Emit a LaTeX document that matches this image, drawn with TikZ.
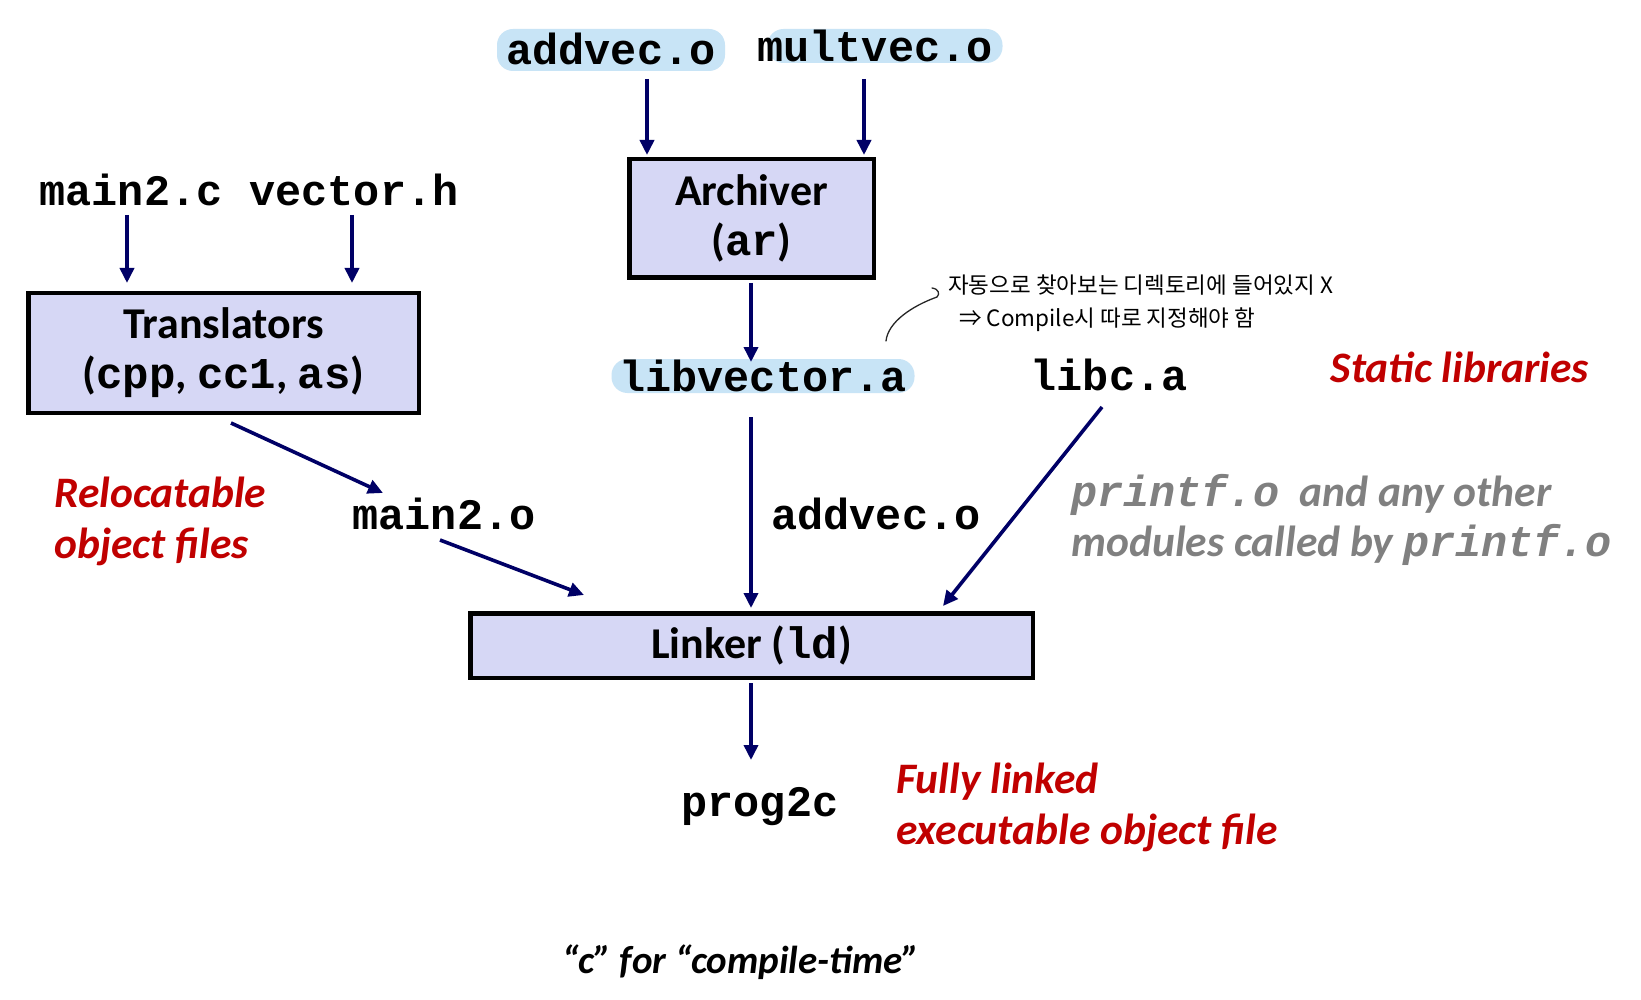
\documentclass[tikz,border=0pt]{standalone}
\usepackage{fontspec}
\setmainfont{Carlito}
\newfontfamily\cmono{Liberation Mono}
\newfontfamily\ckr{Noto Sans CJK KR}
\usetikzlibrary{arrows.meta}
\definecolor{boxfill}{RGB}{214,215,245}
\definecolor{navyc}{RGB}{0,0,102}
\definecolor{hlc}{RGB}{200,228,246}
\definecolor{redc}{RGB}{192,0,0}
\definecolor{grayc}{RGB}{128,128,128}
\newcommand\mt[1]{{\cmono\bfseries #1}}
\begin{document}
\begin{tikzpicture}[x=1pt,y=-1pt,
  fname/.style={font=\fontsize{43.5}{49}\selectfont\cmono\bfseries, inner sep=0pt, outer sep=0pt},
  pill/.style={fname, fill=hlc, rounded corners=16pt},
  procbox/.style={draw=black, line width=4.5pt, fill=boxfill, align=center, inner sep=0pt,
     font=\fontsize{44}{50}\selectfont\bfseries},
  arr/.style={draw=navyc, line width=3.6pt, -{Triangle[length=15pt,width=14pt]}},
  redlbl/.style={text=redc, font=\fontsize{43.5}{51}\selectfont\bfseries\itshape, align=left, inner sep=0pt},
  graylbl/.style={text=grayc, font=\fontsize{43.5}{50}\selectfont\bfseries\itshape, align=left, inner sep=0pt},
  krlbl/.style={font=\fontsize{22.5}{26}\selectfont\ckr, inner sep=0pt},
  hand/.style={draw=black!85, line width=1.3pt, line cap=round}
]
\useasboundingbox[fill=white] (0,0) rectangle (1641,1000);

% inputs to archiver
\node[pill, minimum width=228pt, minimum height=42pt] (addvec) at (611,50) {\raisebox{2pt}{addvec.o}};
\node[pill, minimum width=235pt, minimum height=34pt] (multvec) at (885,46) {\hspace*{-20pt}multvec.o};
\node[procbox, minimum width=244.5pt, minimum height=118.5pt] (archiver) at (751.5,218.5) {Archiver\\(\mt{ar})};

% libraries
\node[pill, minimum width=303pt, minimum height=34pt] (libvec) at (763,376) {libvector.a};
\node[fname] (libc) at (1109,375) {libc.a};
\node[redlbl] (static) at (1460,367) {Static libraries};

% note
\node[krlbl, anchor=west] (kr1) at (948,285) {자동으로 찾아보는 디렉토리에 들어있지 X};
\node[krlbl, anchor=west] (kr2) at (959,320) {⇒ Compile시 따로 지정해야 함};
\coordinate (hookstart) at (886,341);

% translators
\node[fname] (main2c) at (131,190) {main2.c};
\node[fname] (vectorh) at (354,190) {vector.h};
\node[procbox, minimum width=390.5pt, minimum height=119.5pt] (transl) at (223.5,353) {Translators\\(\mt{cpp}, \mt{cc1}, \mt{as})};

\node[fname] (main2o) at (444,514) {main2.o};
\node[redlbl, anchor=west] (reloc) at (54,521.5) {Relocatable\\object files};
\node[fname] (addvecl) at (876,514) {addvec.o};
\node[graylbl, anchor=west] (printf) at (1071,520) {{\cmono\bfseries\itshape printf.o}\ \ and any other\\modules called by {\cmono\bfseries\itshape printf.o}};

% linker
\node[procbox, minimum width=562.5pt, minimum height=64.5pt] (linker) at (751.5,645.5) {Linker (\mt{ld})};
\node[fname] (prog) at (760,807) {prog2c};
\node[redlbl, anchor=west] (full) at (896,807) {Fully linked\\executable object file};

\node[font=\fontsize{39}{42}\selectfont\bfseries\itshape, inner sep=0pt] (ctime) at (741,962) {“c” for “compile-time”};

% arrows
\draw[arr] ([shift={(-4,25)}]main2c.center) -- ([shift={(-96.5,-70)}]transl.center);
\draw[arr] ([shift={(-2,25)}]vectorh.center) -- ([shift={(128.5,-70)}]transl.center);
\draw[arr] ([shift={(36,29)}]addvec.center) -- ([shift={(-104.5,-63.5)}]archiver.center);
\draw[arr] ([shift={(-21,33)}]multvec.center) -- ([shift={(112.5,-63.5)}]archiver.center);
\draw[arr] ([shift={(-0.5,64.5)}]archiver.center) -- ([shift={(-12,-14)}]libvec.center);
\draw[arr] ([shift={(-12,41)}]libvec.center) -- ([shift={(-0.5,-37.5)}]linker.center);
\draw[arr] ([shift={(7.5,70)}]transl.center) -- ([shift={(-61,-21)}]main2o.center);
\draw[arr] ([shift={(-4,26)}]main2o.center) -- ([shift={(-167.5,-50.5)}]linker.center);
\draw[arr] ([shift={(-7,32)}]libc.center) -- ([shift={(191.5,-39.5)}]linker.center);
\draw[arr] ([shift={(-0.5,37.5)}]linker.center) -- ([shift={(-9,-47)}]prog.center);

% handwritten pointer
\draw[hand] (hookstart) .. controls (888,322) and (912,306) .. ([shift={(-11,12)}]kr1.west)
   .. controls (940,294) and (939,289) .. (932,288);
\end{tikzpicture}
\end{document}
